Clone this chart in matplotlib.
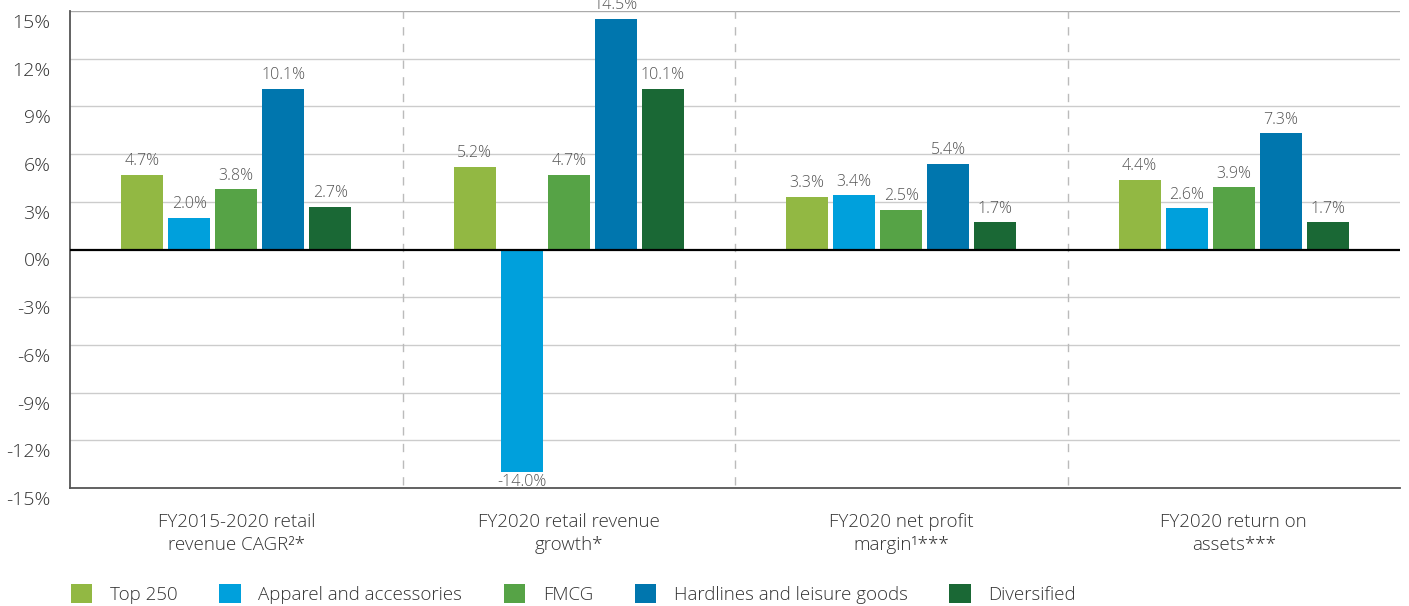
import matplotlib
matplotlib.use("Agg")
import matplotlib.pyplot as plt
import matplotlib.transforms as mtransforms
import numpy as np
from matplotlib.patches import Patch

plt.rcParams['font.family'] = ['Open Sans', 'DejaVu Sans']

categories = ["FY2015-2020 retail\nrevenue CAGR²*",
              "FY2020 retail revenue\ngrowth*",
              "FY2020 net profit\nmargin¹***",
              "FY2020 return on\nassets***"]
series_names = ["Top 250", "Apparel and accessories", "FMCG",
                "Hardlines and leisure goods", "Diversified"]
top250 = [4.7, 5.2, 3.3, 4.4]
apparel = [2.0, -14.0, 3.4, 2.6]
fmcg = [3.8, 4.7, 2.5, 3.9]
hardlines = [10.1, 14.5, 5.4, 7.3]
diversified = [2.7, 10.1, 1.7, 1.7]
yticks = [15, 12, 9, 6, 3, 0, -3, -6, -9, -12, -15]

colors = ["#92B843", "#00A0DC", "#56A346", "#0076AE", "#1A6835"]
series = [top250, apparel, fmcg, hardlines, diversified]
W = "light"

fig = plt.figure(figsize=(14.09, 6.06), dpi=100)
ax = fig.add_axes([70/1409, 118/606, 1330/1409, 477/606])

x = np.arange(len(categories))
stride = 47/332.5
width = 42/332.5
for i, (vals, c, name) in enumerate(zip(series, colors, series_names)):
    pos = x + (i - 2) * stride
    ax.bar(pos, vals, width=width, color=c, label=name, zorder=3)
    for xp, v in zip(pos, vals):
        if v >= 0:
            ax.text(xp, v + 0.35, f"{v:.1f}%", ha="center", va="bottom",
                    fontsize=11.5, color="#555555", zorder=4, fontweight=W)
        else:
            ax.text(xp, v - 0.1, f"{v:.1f}%", ha="center", va="top",
                    fontsize=11.5, color="#555555", zorder=4, fontweight=W)

ax.set_xlim(-0.5, 3.5)
ax.set_ylim(-15, 15)
ax.set_yticks(yticks)
ax.set_yticklabels([f"{t}%" for t in yticks], fontsize=14, color="#333333", fontweight=W)
ax.tick_params(axis="y", length=0, pad=14)
ax.tick_params(axis="x", length=0, pad=18)
ax.set_xticks(x)
ax.set_xticklabels(categories, fontsize=13.5, color="#333333", linespacing=1.35, fontweight=W)
off = mtransforms.ScaledTranslation(0, -10/100, fig.dpi_scale_trans)
for lab in ax.get_yticklabels():
    lab.set_transform(lab.get_transform() + off)

for t in yticks:
    if t == 0:
        ax.axhline(0, color="black", lw=1.6, zorder=3)
    elif t == 15:
        ax.axhline(t, color="#aaaaaa", lw=1.0, zorder=1)
    elif t == -15:
        pass
    else:
        ax.axhline(t, color="#cccccc", lw=1.0, zorder=1)

for s in [0.5, 1.5, 2.5]:
    ax.plot([s, s], [-14.8, 15], color="#bbbbbb", lw=1.0, ls=(0, (6, 6)), zorder=1)

for sp in ["top", "right"]:
    ax.spines[sp].set_visible(False)
ax.spines["left"].set_color("#555555")
ax.spines["left"].set_linewidth(1.3)
ax.spines["bottom"].set_color("#555555")
ax.spines["bottom"].set_linewidth(1.3)

handles = [Patch(facecolor=c, edgecolor="none") for c in colors]
leg = fig.legend(handles, series_names, loc="center left",
                 bbox_to_anchor=(54/1409, 1 - 594/606), ncol=5, frameon=False,
                 prop={"size": 13.5, "weight": W}, handlelength=1.15, handleheight=1.15,
                 handletextpad=0.95, columnspacing=2.2)
for t in leg.get_texts():
    t.set_color("#333333")

fig.savefig("out.png", dpi=100)
